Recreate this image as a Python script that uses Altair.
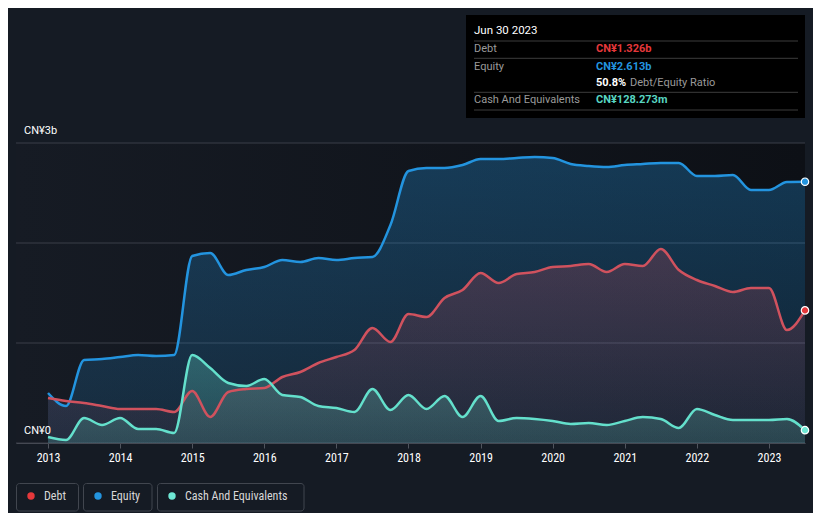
import altair as alt
import pandas as pd

# quarterly time points (fractional years) 2013.00 .. 2023.50
quarters = [2013 + 0.25 * i for i in range(43)]

equity = [0.50, 0.37, 0.83, 0.84, 0.86, 0.88, 0.87, 0.88,
          1.87, 1.90, 1.68, 1.73, 1.76, 1.83, 1.81, 1.85,
          1.83, 1.85, 1.86, 2.18, 2.72, 2.75, 2.75, 2.78,
          2.84, 2.84, 2.85, 2.86, 2.85, 2.79, 2.77, 2.76,
          2.78, 2.79, 2.80, 2.80, 2.67, 2.67, 2.68, 2.53,
          2.53, 2.61, 2.613]
debt = [0.45, 0.42, 0.40, 0.37, 0.34, 0.34, 0.34, 0.31,
        0.52, 0.26, 0.51, 0.54, 0.55, 0.66, 0.71, 0.80,
        0.86, 0.93, 1.15, 1.01, 1.29, 1.26, 1.45, 1.53,
        1.70, 1.60, 1.69, 1.71, 1.76, 1.77, 1.79, 1.71,
        1.79, 1.77, 1.94, 1.73, 1.63, 1.57, 1.51, 1.55,
        1.55, 1.13, 1.326]
cash = [0.06, 0.03, 0.25, 0.18, 0.25, 0.14, 0.14, 0.10,
        0.88, 0.75, 0.60, 0.57, 0.64, 0.48, 0.46, 0.37,
        0.35, 0.31, 0.54, 0.33, 0.48, 0.34, 0.47, 0.26,
        0.47, 0.22, 0.25, 0.24, 0.22, 0.19, 0.20, 0.18,
        0.22, 0.26, 0.24, 0.15, 0.34, 0.28, 0.23, 0.23,
        0.23, 0.24, 0.128283]

year_ticks = list(range(2013, 2024))
grid_vals = [0, 1, 2, 3]
legend_labels = ["Debt", "Equity", "Cash And Equivalents"]
legend_colors = ["#e5383b", "#2394df", "#6ee7d4"]

tt_title = "Jun 30 2023"
tt_rows = ["Debt", "Equity", "", "Cash And Equivalents"]
tt_values = ["CN¥1.326b", "CN¥2.613b", "50.8%", "CN¥128.273m"]
tt_colors = ["#e5383b", "#2394df", "#ffffff", "#58d6c2"]

XMIN, XMAX = 2012.556, 2023.5
YMAX = 4.35
W, H = 789, 435

df = pd.DataFrame({"t": quarters, "equity": equity, "debt": debt, "cash": cash})
last = df.tail(1)

xs = alt.Scale(domain=[XMIN, XMAX], nice=False, zero=False)
ys = alt.Scale(domain=[0, YMAX], nice=False)

COND = "Roboto Condensed, Liberation Sans Narrow, DejaVu Sans Condensed, Roboto, sans-serif"
REG = "Roboto, Inter, sans-serif"

one = pd.DataFrame({"a": [0]})

bg = alt.Chart(one).mark_rect(
    color=alt.Gradient(gradient="linear",
                       stops=[alt.GradientStop(color="#161b24", offset=0),
                              alt.GradientStop(color="#0d1016", offset=1)],
                       x1=0, x2=1, y1=0, y2=0)
).encode(
    x=alt.datum(XMIN, type="quantitative", scale=xs,
                axis=alt.Axis(values=year_ticks, format="d", title=None, grid=False,
                              labelColor="#ffffff", labelFontSize=12, labelFont=COND,
                              tickColor="#50555e", tickSize=5, domainColor="#50555e",
                              labelPadding=4)),
    x2=alt.datum(XMAX),
    y=alt.datum(0, type="quantitative", scale=ys, axis=None),
    y2=alt.datum(3),
)

grid = alt.Chart(pd.DataFrame({"v": grid_vals})).mark_rule(color="#3a3f48", strokeWidth=1).encode(
    y=alt.Y("v:Q", scale=ys),
    x=alt.datum(XMIN),
    x2=alt.datum(XMAX),
)


def area(field, c, top, bottom):
    return alt.Chart(df).mark_area(
        interpolate="monotone",
        color=alt.Gradient(gradient="linear",
                           stops=[alt.GradientStop(color=f"rgba({c},{top})", offset=0),
                                  alt.GradientStop(color=f"rgba({c},{bottom})", offset=1)],
                           x1=0, x2=0, y1=0, y2=1)
    ).encode(x=alt.X("t:Q", scale=xs), y=alt.Y(f"{field}:Q", scale=ys))


def line(field, color):
    return alt.Chart(df).mark_line(interpolate="monotone", color=color, strokeWidth=2.5).encode(
        x=alt.X("t:Q", scale=xs), y=alt.Y(f"{field}:Q", scale=ys))


def endpoint(field, color):
    return alt.Chart(last).mark_point(filled=True, size=55, fill=color, stroke="#ffffff",
                                      strokeWidth=1.2, opacity=1).encode(
        x=alt.X("t:Q", scale=xs), y=alt.Y(f"{field}:Q", scale=ys))


layers = [bg, grid,
          area("equity", "35,148,223", 0.30, 0.14),
          area("debt", "230,77,92", 0.22, 0.06),
          area("cash", "110,231,212", 0.28, 0.16),
          line("equity", "#2394df"),
          line("debt", "#d0525e"),
          line("cash", "#64e0cc"),
          endpoint("equity", "#2394df"),
          endpoint("debt", "#e5383b"),
          endpoint("cash", "#6ee7d4")]


def txt(s, x, y, color, size=11, font=REG, weight="normal"):
    return alt.Chart(one).mark_text(align="left", baseline="middle", color=color, fontSize=size,
                                    font=font, fontWeight=weight).encode(
        x=alt.value(x), y=alt.value(y), text=alt.value(s))


# y labels
layers.append(txt("CN¥3b", 8, 123, "#ffffff", 11))
layers.append(txt("CN¥0", 8, 423, "#ffffff", 11))

# tooltip box
layers.append(alt.Chart(one).mark_rect(color="#000000").encode(
    x=alt.value(450), x2=alt.value(789), y=alt.value(7), y2=alt.value(110)))
for yy in [33, 50.3, 84.3, 102]:
    layers.append(alt.Chart(one).mark_rule(color="#3c3c3c", strokeWidth=1).encode(
        x=alt.value(458), x2=alt.value(782), y=alt.value(yy)))
layers.append(txt(tt_title, 458, 23, "#ffffff", 11.5))
row_y = [41, 58.7, 75.3, 92]
for lab, val, col, yy in zip(tt_rows, tt_values, tt_colors, row_y):
    if lab:
        layers.append(txt(lab, 458, yy, "#9a9a9a", 11))
    layers.append(txt(val, 580, yy, col, 11, weight="bold"))
layers.append(txt("Debt/Equity Ratio", 614, 75.3, "#9a9a9a", 11))

# legend
boxes = [(0, 62.5), (67, 136), (141, 288)]
for (bx0, bx1), lab, col in zip(boxes, legend_labels, legend_colors):
    layers.append(alt.Chart(one).mark_rect(fillOpacity=0, stroke="#41464f", strokeWidth=1,
                                           cornerRadius=3).encode(
        x=alt.value(bx0 + 0.5), x2=alt.value(bx1), y=alt.value(475.5), y2=alt.value(503)))
    layers.append(alt.Chart(one).mark_point(filled=True, size=55, fill=col, opacity=1).encode(
        x=alt.value(bx0 + 15), y=alt.value(488)))
    layers.append(txt(lab, bx0 + 28, 488, "#d8d8d8", 12, font=COND))

chart = alt.layer(*layers).properties(
    width=W, height=H,
    autosize=alt.AutoSizeParams(type="none"),
    padding={"left": 8, "top": 0, "right": 8, "bottom": 70},
    background="#151b24",
).configure_view(stroke=None)

chart.save("out.html", embed_options={"renderer": "svg", "actions": False})
